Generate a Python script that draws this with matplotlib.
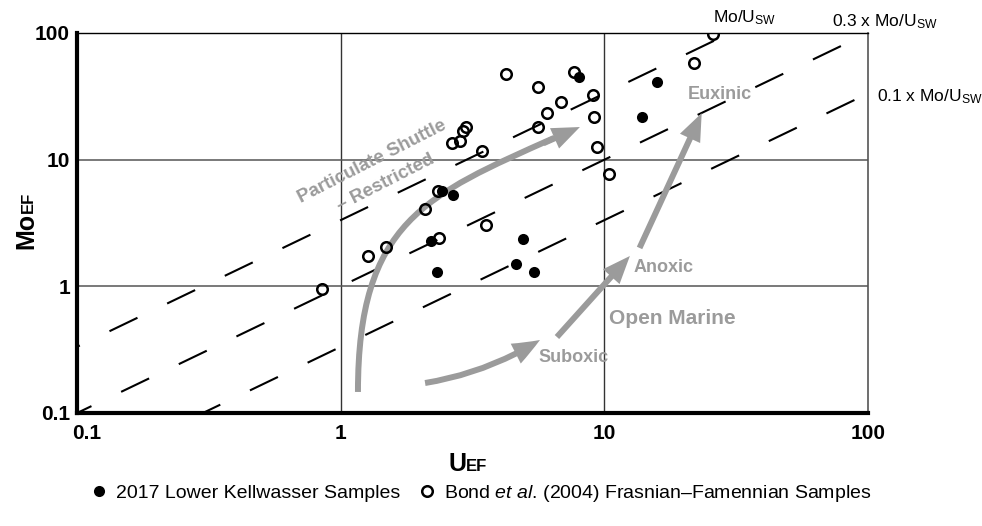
import matplotlib
matplotlib.use("Agg")
import matplotlib.pyplot as plt
from matplotlib.patches import PathPatch
from matplotlib.path import Path
from matplotlib.transforms import ScaledTranslation

plt.rcParams['font.family'] = ['Liberation Sans', 'DejaVu Sans']
plt.rcParams['mathtext.fontset'] = 'custom'
plt.rcParams['mathtext.rm'] = 'Liberation Sans'
plt.rcParams['mathtext.it'] = 'Liberation Sans:italic'
plt.rcParams['mathtext.bf'] = 'Liberation Sans:bold'

# 2017 Lower Kellwasser samples (filled circles)
kw_u = [2.42, 2.67, 2.20, 2.32, 4.91, 4.63, 5.41, 8.02, 15.8, 13.9]
kw_mo = [5.65, 5.26, 2.28, 1.30, 2.36, 1.50, 1.30, 44.9, 40.9, 21.7]

# Bond et al. (2004) Frasnian-Famennian samples (open circles)
bond_u = [0.85, 1.27, 1.49, 2.09, 2.34, 2.36, 3.56, 4.24, 5.60, 7.67, 6.84, 6.05,
          5.60, 9.06, 9.14, 9.37, 10.4, 2.99, 2.91, 2.83, 2.64, 3.43, 25.8, 21.9]
bond_mo = [0.95, 1.73, 2.04, 4.07, 5.65, 2.40, 3.05, 47.4, 37.4, 49.1, 28.5, 23.3,
           18.1, 32.4, 21.7, 12.6, 7.69, 18.1, 16.8, 14.0, 13.5, 11.7, 98.0, 57.8]

# seawater Mo/U and the fractions drawn as dashed lines
mo_u_sw = 3.33
sw_factors = [1.0, 0.3, 0.1]
sw_offsets = [13.4, 7.2, 0.0]
sw_labels = [r"Mo/U$_{\mathregular{SW}}$", r"0.3 x Mo/U$_{\mathregular{SW}}$",
             r"0.1 x Mo/U$_{\mathregular{SW}}$"]
sw_label_pos = [(25.8, 131), (73.0, 122), (108, 31.2)]

ticks = [0.1, 1, 10, 100]
tick_labels = ["0.1", "1", "10", "100"]

grey = "#9b9b9b"

# arrows (U, Mo)
shuttle_ctrl = [(1.163, 0.1466), (1.163, 3.22), (2.107, 5.26), (6.44, 14.83)]
shuttle_back = (5.87, 13.46)
shuttle_tip = (8.08, 18.1)
suboxic_arrow = [(2.09, 0.1725), (5.70, 0.377)]
anoxic_arrow = [(6.61, 0.398), (12.5, 1.736)]
euxinic_arrow = [(13.6, 2.01), (23.4, 23.3)]

# regime labels: text, (U, Mo), size, rotation
regimes = [
    ("Particulate Shuttle", (1.315, 9.58), 13.5, 27),
    ("\u2013 Restricted", (1.486, 6.54), 13.5, 27),
    ("Euxinic", (27.5, 32.4), 13, 0),
    ("Anoxic", (16.7, 1.42), 13, 0),
    ("Open Marine", (18.06, 0.562), 15, 0),
    ("Suboxic", (7.67, 0.272), 13, 0),
]

legend_labels = ["2017 Lower Kellwasser Samples",
                 "Bond $\\mathit{et\\ al}$. (2004) Frasnian\u2013Famennian Samples"]

fig = plt.figure(figsize=(9.82, 5.26), dpi=100)
ax = fig.add_axes([77 / 982, 1 - 413 / 526, 791 / 982, 380 / 526])
ax.set_xscale("log")
ax.set_yscale("log")
ax.set_xlim(0.1, 100)
ax.set_ylim(0.1, 100)

for v in [1, 10]:
    ax.axvline(v, color="#333333", lw=1.0, zorder=1)
    ax.axhline(v, color="#555555", lw=1.1, zorder=1)

xs = [0.1, 100]
for f, off in zip(sw_factors, sw_offsets):
    ax.plot(xs, [f * mo_u_sw * x for x in xs], color="black", lw=1.5,
            ls=(off, (14.9, 15.8)), zorder=2)

for lab, (u, m) in zip(sw_labels, sw_label_pos):
    ax.text(u, m, lab, fontsize=12.5, ha="left", va="center", clip_on=False)

# curved shuttle arrow
shaft = Path(shuttle_ctrl, [Path.MOVETO, Path.CURVE4, Path.CURVE4, Path.CURVE4])
ax.add_patch(PathPatch(shaft, fill=False, lw=4.3, ec=grey, zorder=3,
                       capstyle="butt", transform=ax.transData))
head_style = "simple,head_length=2.0,head_width=1.6,tail_width=0.43"
ax.annotate("", xy=shuttle_tip, xytext=shuttle_back,
            arrowprops=dict(arrowstyle=head_style, mutation_scale=10, color=grey,
                            lw=0, shrinkA=0, shrinkB=0), zorder=3)
ax.annotate("", xy=suboxic_arrow[1], xytext=suboxic_arrow[0],
            arrowprops=dict(arrowstyle=head_style, mutation_scale=10, color=grey,
                            lw=0, shrinkA=0, shrinkB=0,
                            connectionstyle="arc3,rad=0.1"), zorder=3)
for a in [anoxic_arrow, euxinic_arrow]:
    ax.annotate("", xy=a[1], xytext=a[0],
                arrowprops=dict(arrowstyle=head_style, mutation_scale=10, color=grey,
                                lw=0, shrinkA=0, shrinkB=0), zorder=3)

for txt, (u, m), size, rot in regimes:
    ax.text(u, m, txt, color=grey, fontsize=size, fontweight="bold",
            ha="center", va="center", rotation=rot, rotation_mode="anchor", zorder=3)

bond_line, = ax.plot(bond_u, bond_mo, ls="none", marker="o", ms=7.6, mfc="none",
                     mec="black", mew=1.8, zorder=4)
kw_line, = ax.plot(kw_u, kw_mo, ls="none", marker="o", ms=8, mfc="black",
                   mec="black", mew=0, zorder=5)

ax.set_xticks(ticks)
ax.set_xticklabels(tick_labels)
ax.set_yticks(ticks)
ax.set_yticklabels(tick_labels)
ax.minorticks_off()
ax.tick_params(length=0, labelsize=15)
ax.tick_params(axis="x", pad=8)
ax.tick_params(axis="y", pad=5)
for lab in ax.get_xticklabels() + ax.get_yticklabels():
    lab.set_fontweight("bold")
first = ax.get_xticklabels()[0]
first.set_transform(first.get_transform() + ScaledTranslation(7 / 72, 0, fig.dpi_scale_trans))

ax.spines["left"].set_linewidth(3)
ax.spines["bottom"].set_linewidth(3)
ax.spines["top"].set_linewidth(1.0)
ax.spines["right"].set_linewidth(1.2)
ax.spines["right"].set_color("#555555")

# axis titles with small caps subscript on the baseline
fig.text(466 / 982, 1 - 471 / 526, "U", fontsize=18, fontweight="bold",
         ha="right", va="baseline")
fig.text(466 / 982, 1 - 471 / 526, "EF", fontsize=12, fontweight="bold",
         ha="left", va="baseline")
fig.text(33 / 982, 1 - 213 / 526, "Mo", fontsize=18, fontweight="bold",
         ha="right", va="baseline", rotation=90, rotation_mode="anchor")
fig.text(33 / 982, 1 - 213 / 526, "EF", fontsize=12, fontweight="bold",
         ha="left", va="baseline", rotation=90, rotation_mode="anchor")

fig.legend([kw_line, bond_line], legend_labels,
           loc="center", bbox_to_anchor=(0.489, 1 - 493 / 526), ncol=2, frameon=False,
           fontsize=14, handlelength=1.0, handletextpad=0.35, columnspacing=0.9)

fig.savefig("out.png", dpi=100)
